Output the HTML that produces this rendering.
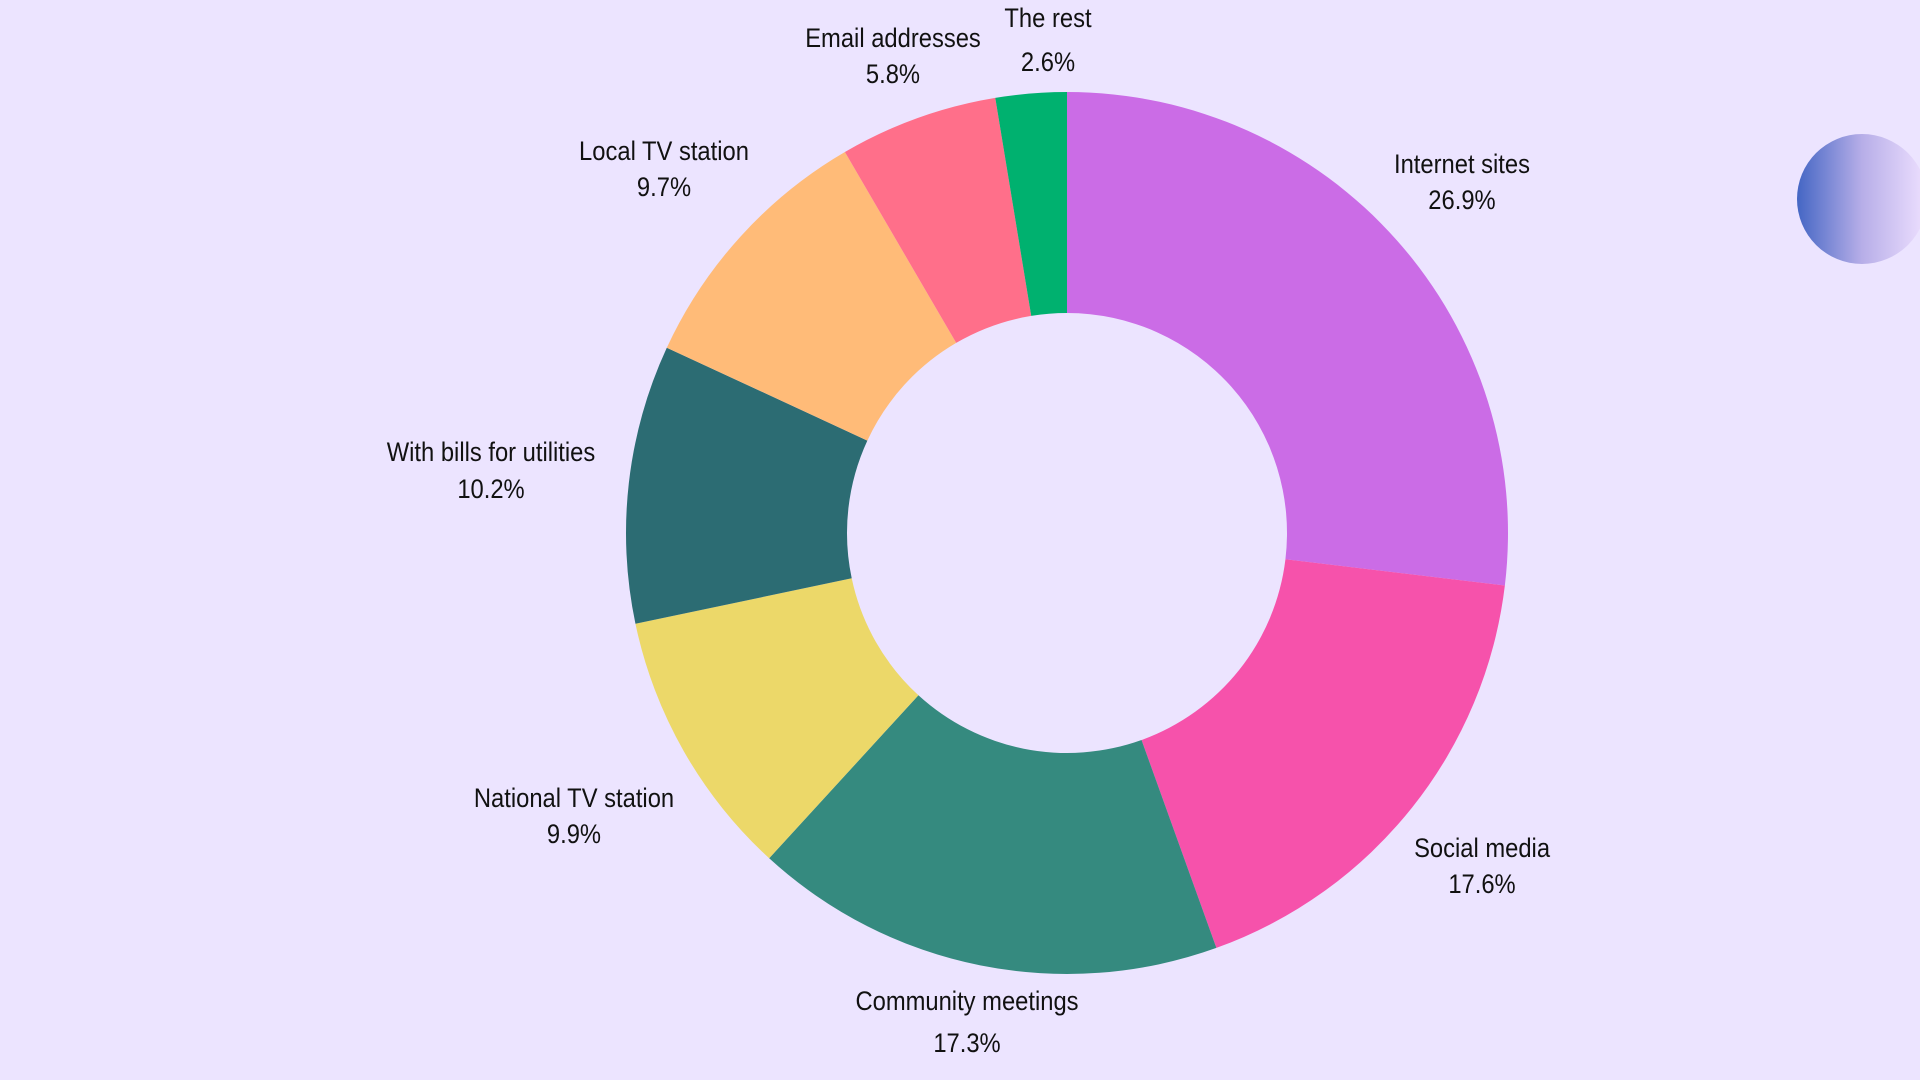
<!DOCTYPE html>
<html><head><meta charset="utf-8"><style>
html,body{margin:0;padding:0;background:#ECE4FF;}
svg{display:block}
text{font-family:"Liberation Sans Narrow","Liberation Sans",sans-serif;font-size:27px;fill:#111;text-anchor:middle;dominant-baseline:middle;transform-box:fill-box;transform-origin:center;transform:translateY(2px) scaleX(0.88)}
</style></head><body>
<svg id="s" width="1920" height="1080" viewBox="0 0 1920 1080">
<defs><linearGradient id="g" x1="0" x2="1" y1="0" y2="0"><stop offset="0" stop-color="#4466C4"/><stop offset="0.5" stop-color="#B7AEE8"/><stop offset="1" stop-color="#EEE0FF"/></linearGradient></defs>
<rect width="1920" height="1080" fill="#ECE4FF"/>
<g id="p"></g>
<circle cx="1862" cy="199" r="65" fill="url(#g)"/>
<text x="1462" y="164">Internet sites</text><text x="1462" y="200">26.9%</text>
<text x="1482" y="848">Social media</text><text x="1482" y="884">17.6%</text>
<text x="967" y="1001">Community meetings</text><text x="967" y="1043">17.3%</text>
<text x="574" y="798">National TV station</text><text x="574" y="834">9.9%</text>
<text x="491" y="452">With bills for utilities</text><text x="491" y="489">10.2%</text>
<text x="664" y="151">Local TV station</text><text x="664" y="187">9.7%</text>
<text x="893" y="38">Email addresses</text><text x="893" y="74">5.8%</text>
<text x="1048" y="18">The rest</text><text x="1048" y="62">2.6%</text>
</svg>
<script>
var d=[[26.9,"#CB6CE6"],[17.6,"#F652AB"],[17.3,"#358A7F"],[9.9,"#ECD869"],[10.2,"#2C6C73"],[9.7,"#FFBB78"],[5.8,"#FF6F8A"],[2.6,"#00B16F"]];
var cx=1067,cy=533,R=441,r=220,a=0,g=document.getElementById("p"),h="";
function pt(rad,ang){var t=ang/100*2*Math.PI;return [cx+rad*Math.sin(t),cy-rad*Math.cos(t)];}
d.forEach(function(e){var b=a+e[0],L=e[0]>50?1:0;
var p1=pt(R,a),p2=pt(R,b),p3=pt(r,b),p4=pt(r,a);
h+='<path fill="'+e[1]+'" d="M'+p1+' A'+R+','+R+' 0 '+L+' 1 '+p2+' L'+p3+' A'+r+','+r+' 0 '+L+' 0 '+p4+' Z"/>';a=b;});
g.innerHTML=h;
</script>
</body></html>
